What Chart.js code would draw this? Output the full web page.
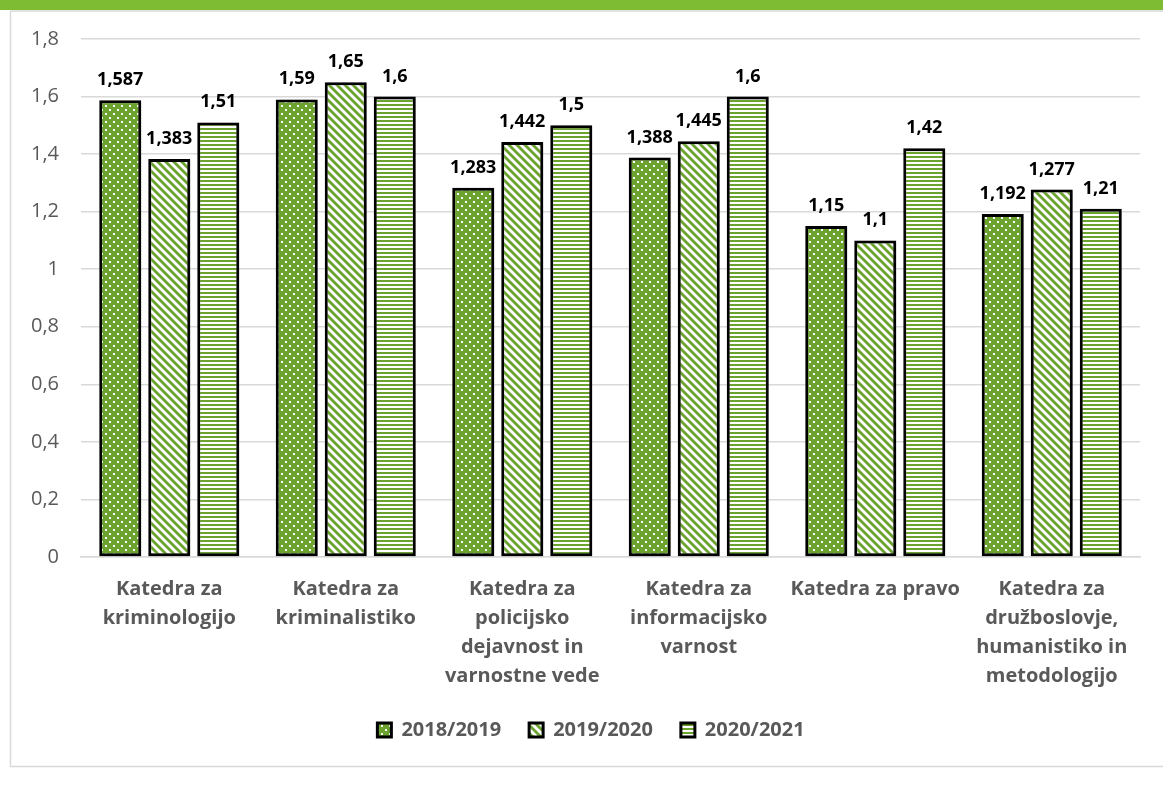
<!DOCTYPE html>
<html>
<head>
<meta charset="utf-8">
<script src="https://cdn.jsdelivr.net/npm/chart.js@4"></script>
<style>
html,body{margin:0;padding:0;background:#fff;}
canvas{display:block;}
</style>
</head>
<body>
<canvas id="c" width="1163" height="789"></canvas>
<script>
const categories = [
  ["Katedra za","kriminologijo"],
  ["Katedra za","kriminalistiko"],
  ["Katedra za","policijsko","dejavnost in","varnostne vede"],
  ["Katedra za","informacijsko","varnost"],
  ["Katedra za pravo"],
  ["Katedra za","družboslovje,","humanistiko in","metodologijo"]
];
const seriesNames = ["2018/2019","2019/2020","2020/2021"];
const values2018 = [1.587, 1.59, 1.283, 1.388, 1.15, 1.192];
const values2019 = [1.383, 1.65, 1.442, 1.445, 1.1, 1.277];
const values2020 = [1.51, 1.6, 1.5, 1.6, 1.42, 1.21];
const yTickLabels = ["0","0,2","0,4","0,6","0,8","1","1,2","1,4","1,6","1,8"];

const GREEN = '#6CA32F';
const FONT = "'Open Sans', sans-serif";

function makePattern(size, drawFn) {
  const c = document.createElement('canvas');
  c.width = size[0]; c.height = size[1];
  const x = c.getContext('2d');
  drawFn(x, size[0], size[1]);
  return document.getElementById('c').getContext('2d').createPattern(c, 'repeat');
}
const dotPattern = makePattern([8, 8], (x, w, h) => {
  x.fillStyle = GREEN; x.fillRect(0, 0, w, h);
  x.fillStyle = '#fff';
  x.fillRect(1, 1, 2, 2);
  x.fillRect(5, 5, 2, 2);
});
const diagPattern = makePattern([8, 8], (x, w, h) => {
  x.fillStyle = GREEN; x.fillRect(0, 0, w, h);
  x.strokeStyle = '#fff'; x.lineWidth = 2.8;
  for (const o of [-8, 0, 8]) {
    x.beginPath(); x.moveTo(o - 1, -1); x.lineTo(o + 9, 9); x.stroke();
  }
});
const horizPattern = makePattern([4, 4], (x, w, h) => {
  x.fillStyle = '#fff'; x.fillRect(0, 0, w, h);
  x.fillStyle = GREEN; x.fillRect(0, 0, w, 2);
});

const bgPlugin = {
  id: 'bg',
  beforeDraw(chart) {
    const ctx = chart.ctx;
    ctx.save();
    ctx.fillStyle = '#fff';
    ctx.fillRect(0, 0, chart.width, chart.height);
    ctx.strokeStyle = '#D9D9D9';
    ctx.lineWidth = 1.5;
    ctx.beginPath();
    ctx.moveTo(10.5, 11);
    ctx.lineTo(10.5, 766.5);
    ctx.lineTo(chart.width + 5, 766.5);
    ctx.stroke();
    ctx.beginPath();
    ctx.moveTo(10.5, 11);
    ctx.lineTo(chart.width + 5, 11);
    ctx.stroke();
    ctx.fillStyle = '#7EBC34';
    ctx.fillRect(0, 0, chart.width, 10);
    ctx.restore();
  }
};

const legendShiftPlugin = {
  id: 'legendShift',
  afterLayout(chart) {
    const lg = chart.legend;
    if (lg) { lg.left += 16; lg.right += 16; }
  }
};

const shadowPlugin = {
  id: 'shadow',
  beforeDatasetsDraw(chart) {
    const ctx = chart.ctx;
    ctx.save();
    ctx.shadowColor = 'rgba(0,0,0,0.25)';
    ctx.shadowBlur = 4;
    ctx.shadowOffsetX = 2;
    ctx.shadowOffsetY = 1;
  },
  afterDatasetsDraw(chart) {
    chart.ctx.restore();
  }
};

const labelPlugin = {
  id: 'valueLabels',
  afterDatasetsDraw(chart) {
    const ctx = chart.ctx;
    ctx.save();
    ctx.font = "bold 18px " + FONT;
    ctx.fillStyle = '#000';
    ctx.textAlign = 'center';
    ctx.textBaseline = 'alphabetic';
    chart.data.datasets.forEach((ds, i) => {
      chart.getDatasetMeta(i).data.forEach((bar, j) => {
        const txt = String(ds.data[j]).replace('.', ',');
        ctx.fillText(txt, bar.x, bar.y - 15);
      });
    });
    ctx.restore();
  }
};

const common = {
  borderColor: '#000',
  borderWidth: 3,
  borderSkipped: false,
  barPercentage: 0.857,
  categoryPercentage: 0.833
};

new Chart(document.getElementById('c'), {
  type: 'bar',
  data: {
    labels: categories,
    datasets: [
      Object.assign({ label: seriesNames[0], data: values2018, backgroundColor: dotPattern }, common),
      Object.assign({ label: seriesNames[1], data: values2019, backgroundColor: diagPattern }, common),
      Object.assign({ label: seriesNames[2], data: values2020, backgroundColor: horizPattern }, common)
    ]
  },
  options: {
    responsive: false,
    animation: false,
    devicePixelRatio: 1,
    layout: { padding: { left: 10, right: 23, top: 39, bottom: 39 } },
    plugins: {
      tooltip: { enabled: false },
      legend: {
        position: 'bottom',
        labels: {
          boxWidth: 14,
          boxHeight: 14,
          padding: 28,
          color: '#595959',
          font: { family: FONT, size: 20, weight: 'bold' }
        }
      }
    },
    scales: {
      x: {
        grid: { display: false, drawTicks: false },
        border: { color: '#D9D9D9', width: 1.5 },
        ticks: {
          color: '#595959',
          padding: 18,
          maxRotation: 0,
          autoSkip: false,
          font: { family: FONT, size: 20, weight: 'bold', lineHeight: 1.45 }
        },
        afterFit(scale) { scale.height = 135; }
      },
      y: {
        min: 0,
        max: 1.8,
        grid: { color: '#D9D9D9', lineWidth: 1.5, drawTicks: false },
        border: { display: false },
        ticks: {
          stepSize: 0.2,
          padding: 22,
          color: '#595959',
          font: { family: FONT, size: 20 },
          callback: (v, i) => yTickLabels[i]
        },
        afterFit(scale) { scale.width = 71; }
      }
    }
  },
  plugins: [bgPlugin, legendShiftPlugin, shadowPlugin, labelPlugin]
});
</script>
</body>
</html>
